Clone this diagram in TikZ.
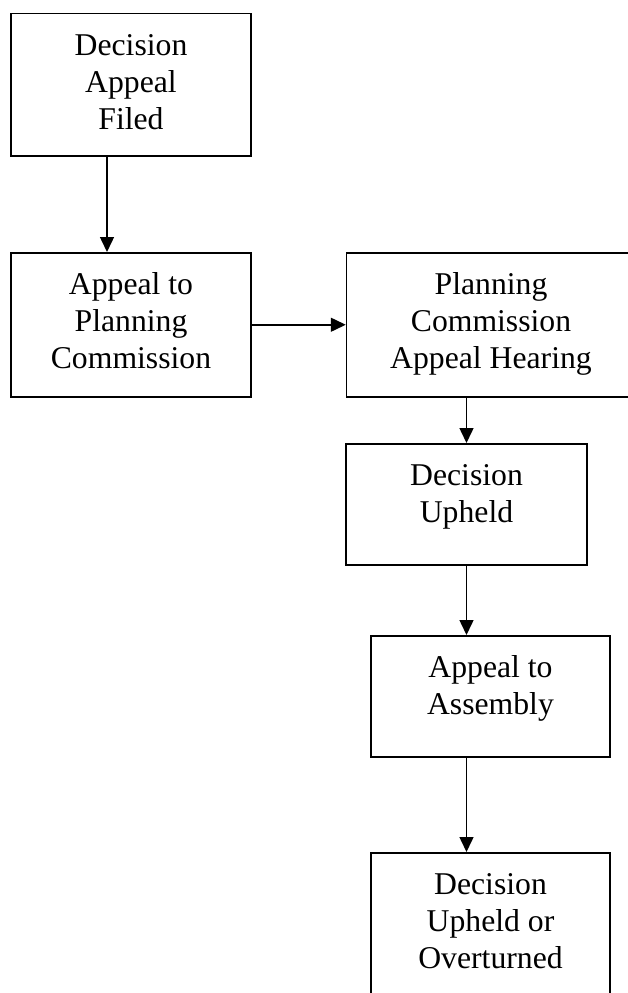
\documentclass[tikz,border=0pt]{standalone}
\usepackage{fontspec}
\setmainfont{Liberation Serif}
\usetikzlibrary{shapes,arrows.meta}
\tikzstyle{arrow} = [line width=1.5pt,-{Triangle[length=15pt,width=14pt]}]
\tikzstyle{stage} = [draw, line width=1.5pt, align=center, anchor=north, inner sep=0pt, font=\fontsize{31.7}{37}\selectfont]

\begin{document}
\begin{tikzpicture}[x=1pt, y=-1pt]
    \useasboundingbox (0,0) rectangle (628,993);

    % Define boxes (placed by the middle of their top side)
    \node (filed) [stage, minimum width=240pt, text height=116pt, text depth=26.3pt] at (131,12.7) {Decision\\Appeal\\Filed};
    \node (appeal) [stage, minimum width=240pt, text height=116pt, text depth=28pt] at (131,252) {Appeal to\\Planning\\Commission};
    \node (hearing) [stage, minimum width=289pt, text height=116pt, text depth=28pt] at (491,252) {Planning\\Commission\\Appeal Hearing};
    \node (upheld) [stage, minimum width=241pt, text height=79pt, text depth=42pt] at (466.5,443) {Decision\\Upheld};
    \node (assembly) [stage, minimum width=239pt, text height=79pt, text depth=42pt] at (490.5,635) {Appeal to\\Assembly};
    \node (final) [stage, minimum width=239pt, text height=116pt, text depth=44pt] at (490.5,852) {Decision\\Upheld or\\Overturned};

    % Draw arrows between boxes
    \draw[arrow] ([xshift=-24pt]filed.south) -- ([xshift=-24pt]appeal.north);
    \draw[arrow] (appeal.east) -- (hearing.west);
    \draw[arrow] (hearing.south -| upheld.north) -- (upheld.north);
    \foreach \X/\Y in {upheld/assembly, assembly/final} {
        \draw[arrow] (\X.south -| upheld.south) -- (\Y.north -| upheld.south);
    }

\end{tikzpicture}
\end{document}
